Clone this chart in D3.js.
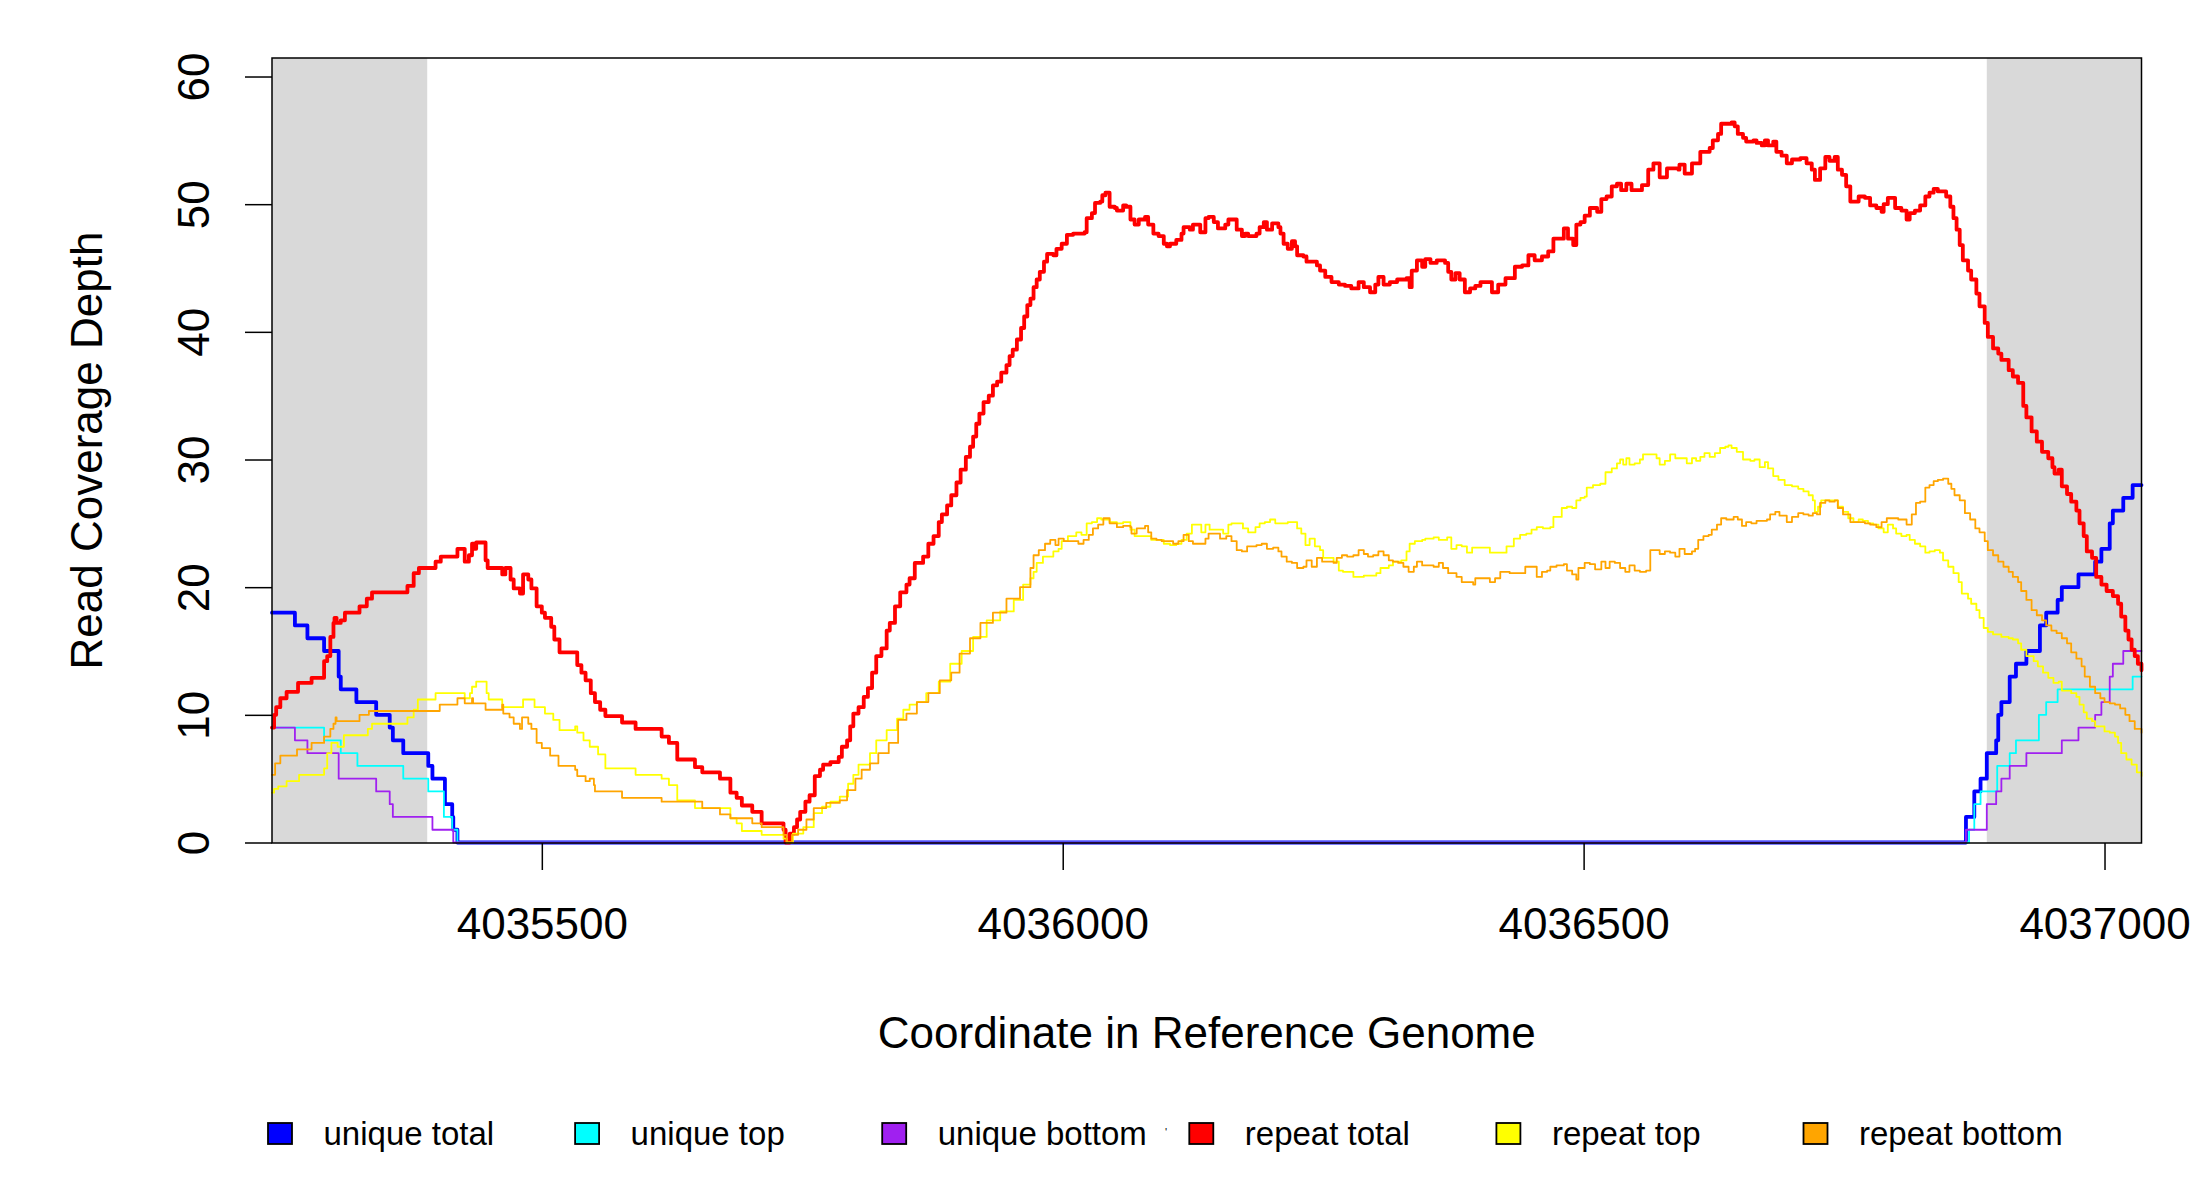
<!DOCTYPE html>
<html>
<head>
<meta charset="utf-8">
<script src="https://cdn.jsdelivr.net/npm/d3@7"></script>
<style>
  body { margin: 0; background: #fff; }
  svg { display: block; }
  text { font-family: "Liberation Sans", Arial, Helvetica, sans-serif; fill: #000; }
</style>
</head>
<body>
<svg id="chart" width="2200" height="1200"></svg>
<script>
// coverage depth per position, [coordinate, depth], drawn as steps
const uniqueTotal = [
  [4035241, 18], [4035263, 17], [4035275, 16], [4035291, 15], [4035305, 13], [4035307, 12],
  [4035322, 11], [4035341, 10], [4035354, 9], [4035357, 8], [4035367, 7], [4035391, 6],
  [4035395, 5], [4035407, 3], [4035414, 2], [4035415, 1], [4035419, 0], [4036867, 2],
  [4036875, 4], [4036881, 5], [4036887, 7], [4036896, 8], [4036898, 10], [4036901, 11],
  [4036909, 13], [4036915, 14], [4036925, 15], [4036938, 17], [4036944, 18], [4036955, 19],
  [4036959, 20], [4036975, 21], [4036991, 22], [4036997, 23], [4037005, 25], [4037008, 26],
  [4037018, 27], [4037027, 28], [4037035.5, 28]
];
const uniqueTop = [
  [4035241, 9], [4035291, 8], [4035307, 7], [4035323, 6], [4035367, 5], [4035391, 4],
  [4035406, 2], [4035414, 1], [4035419, 0], [4036870, 1], [4036875, 3], [4036881, 4],
  [4036897, 6], [4036909, 7], [4036915, 8], [4036937, 10], [4036944, 11], [4036955, 12],
  [4037027, 13], [4037035.5, 13]
];
const uniqueBottom = [
  [4035241, 9], [4035263, 8], [4035275, 7], [4035305, 5], [4035341, 4], [4035354, 3],
  [4035357, 2], [4035395, 1], [4035415, 0], [4036867, 1], [4036887, 3], [4036896, 4],
  [4036901, 5], [4036909, 6], [4036925, 7], [4036959, 8], [4036975, 9], [4036991, 10],
  [4036997, 11], [4037005, 13], [4037008, 14], [4037018, 15], [4037035.5, 15]
];
const repeatTotal = [
  [4035241, 9.0], [4035243, 10.0], [4035245, 10.6], [4035249, 11.3], [4035255, 11.8], [4035266, 12.5],
  [4035279, 12.9], [4035291, 14.2], [4035294, 14.6], [4035297, 16.1], [4035300, 17.2], [4035301, 17.6],
  [4035303, 17.2], [4035307, 17.4], [4035311, 18.0], [4035325, 18.5], [4035332, 19.1], [4035337, 19.6],
  [4035371, 20.1], [4035377, 21.1], [4035382, 21.5], [4035398, 22.0], [4035403, 22.4], [4035419, 23.0],
  [4035426, 22.0], [4035430, 22.5], [4035433, 23.4], [4035435, 23.0], [4035437, 23.5], [4035446, 22.1],
  [4035448, 21.5], [4035462, 21.0], [4035465, 21.5], [4035470, 20.6], [4035473, 19.9], [4035479, 19.5],
  [4035482, 21.0], [4035487, 20.6], [4035490, 19.9], [4035495, 18.5], [4035500, 18.0], [4035503, 17.6],
  [4035509, 16.9], [4035512, 15.9], [4035517, 14.9], [4035534, 13.9], [4035538, 13.3], [4035542, 12.7],
  [4035547, 11.7], [4035551, 11.0], [4035556, 10.4], [4035561, 9.9], [4035577, 9.4], [4035590, 8.9],
  [4035615, 8.3], [4035622, 7.8], [4035630, 6.5], [4035647, 5.9], [4035654, 5.5], [4035671, 5.0],
  [4035681, 3.9], [4035687, 3.5], [4035692, 2.9], [4035702, 2.4], [4035711, 1.5], [4035732, 1.0],
  [4035734, 0], [4035738, 0.7], [4035742, 1.2], [4035745, 1.8], [4035748, 2.4], [4035753, 3.2],
  [4035757, 3.7], [4035762, 5.2], [4035767, 5.7], [4035770, 6.1], [4035777, 6.3], [4035785, 6.7],
  [4035788, 7.5], [4035793, 8.0], [4035796, 9.1], [4035799, 10.1], [4035804, 10.6], [4035809, 11.4],
  [4035813, 12.1], [4035817, 13.3], [4035821, 14.6], [4035826, 15.2], [4035831, 16.6], [4035834, 17.2],
  [4035839, 18.5], [4035844, 19.6], [4035850, 20.2], [4035853, 20.7], [4035858, 21.9], [4035866, 22.4],
  [4035871, 23.4], [4035876, 24.0], [4035881, 25.1], [4035884, 25.7], [4035889, 26.4], [4035893, 27.2],
  [4035898, 28.2], [4035902, 29.2], [4035907, 30.2], [4035911, 31.0], [4035914, 31.8], [4035917, 32.8],
  [4035920, 33.6], [4035924, 34.5], [4035929, 35.0], [4035933, 35.8], [4035937, 36.1], [4035941, 36.8],
  [4035946, 37.4], [4035949, 38.1], [4035952, 38.6], [4035956, 39.4], [4035960, 40.3], [4035963, 41.2],
  [4035966, 42.1], [4035969, 42.6], [4035972, 43.5], [4035975, 44.1], [4035978, 44.7], [4035982, 45.5],
  [4035985, 46.1], [4035991, 46.0], [4035994, 46.5], [4035999, 46.9], [4036004, 47.6], [4036010, 47.7],
  [4036021, 47.8], [4036023, 48.9], [4036028, 49.3], [4036031, 50.1], [4036036, 50.2], [4036038, 50.7],
  [4036041, 50.9], [4036045, 49.8], [4036050, 49.7], [4036052, 49.5], [4036058, 49.9], [4036061, 49.8],
  [4036065, 48.8], [4036069, 48.4], [4036073, 48.8], [4036079, 49.0], [4036082, 48.4], [4036087, 47.7],
  [4036092, 47.5], [4036097, 46.9], [4036100, 46.7], [4036103, 46.9], [4036109, 47.2], [4036114, 47.7],
  [4036116, 48.2], [4036122, 48.0], [4036125, 48.4], [4036132, 47.8], [4036137, 48.9], [4036140, 49.0],
  [4036145, 48.6], [4036149, 48.1], [4036156, 48.4], [4036159, 48.8], [4036167, 48.0], [4036172, 47.5],
  [4036175, 47.7], [4036178, 47.5], [4036186, 47.7], [4036189, 48.2], [4036193, 48.6], [4036196, 48.0],
  [4036201, 48.5], [4036207, 48.2], [4036209, 47.7], [4036212, 46.9], [4036216, 46.5], [4036220, 47.1],
  [4036223, 46.7], [4036225, 46.0], [4036231, 45.9], [4036234, 45.5], [4036244, 45.2], [4036247, 44.8],
  [4036252, 44.3], [4036258, 43.9], [4036265, 43.7], [4036271, 43.6], [4036277, 43.4], [4036284, 43.9],
  [4036289, 43.5], [4036295, 43.1], [4036300, 43.7], [4036303, 44.3], [4036308, 43.7], [4036314, 43.9],
  [4036321, 44.1], [4036330, 44.2], [4036333, 43.5], [4036335, 44.8], [4036340, 45.6], [4036345, 45.1],
  [4036348, 45.7], [4036353, 45.4], [4036359, 45.6], [4036367, 45.4], [4036370, 44.7], [4036373, 44.1],
  [4036377, 44.6], [4036381, 44.1], [4036386, 43.1], [4036391, 43.4], [4036396, 43.6], [4036401, 43.9],
  [4036412, 43.1], [4036418, 43.7], [4036425, 44.2], [4036434, 45.1], [4036441, 45.2], [4036447, 46.0],
  [4036453, 45.6], [4036460, 45.9], [4036466, 46.3], [4036471, 47.3], [4036481, 48.1], [4036485, 47.3],
  [4036490, 46.8], [4036493, 48.4], [4036497, 48.6], [4036501, 49.1], [4036506, 49.7], [4036513, 49.4],
  [4036517, 50.4], [4036522, 50.6], [4036527, 51.4], [4036532, 51.6], [4036536, 51.1], [4036541, 51.6],
  [4036546, 51.1], [4036556, 51.5], [4036562, 52.7], [4036567, 53.2], [4036573, 52.1], [4036580, 52.8],
  [4036591, 52.7], [4036592, 53.1], [4036597, 52.4], [4036604, 53.2], [4036612, 54.1], [4036621, 54.4],
  [4036624, 55.0], [4036629, 55.5], [4036632, 56.3], [4036642, 56.4], [4036645, 56.1], [4036648, 55.5],
  [4036653, 55.2], [4036656, 54.9], [4036663, 55.0], [4036666, 54.8], [4036671, 54.6], [4036674, 55.0],
  [4036677, 54.6], [4036682, 54.9], [4036685, 54.1], [4036690, 53.8], [4036695, 53.2], [4036700, 53.5],
  [4036708, 53.6], [4036714, 53.2], [4036719, 52.7], [4036722, 51.9], [4036727, 52.8], [4036732, 53.7],
  [4036736, 53.4], [4036741, 53.7], [4036744, 52.7], [4036748, 52.3], [4036752, 51.4], [4036756, 50.2],
  [4036764, 50.6], [4036770, 50.5], [4036775, 49.9], [4036781, 49.7], [4036786, 49.4], [4036788, 50.0],
  [4036792, 50.5], [4036799, 49.7], [4036805, 49.5], [4036810, 48.8], [4036813, 49.3], [4036818, 49.5],
  [4036823, 49.9], [4036828, 50.6], [4036832, 50.9], [4036836, 51.2], [4036840, 51.0], [4036848, 50.6],
  [4036852, 49.8], [4036855, 48.9], [4036858, 48.0], [4036861, 46.8], [4036864, 45.6], [4036869, 44.8],
  [4036872, 44.1], [4036877, 43.0], [4036880, 42.0], [4036885, 40.7], [4036888, 39.6], [4036893, 38.7],
  [4036898, 38.3], [4036901, 37.8], [4036908, 37.0], [4036912, 36.5], [4036917, 36.0], [4036922, 34.2],
  [4036925, 33.3], [4036930, 32.2], [4036935, 31.4], [4036940, 30.6], [4036946, 30.1], [4036950, 29.4],
  [4036952, 28.9], [4036956, 29.2], [4036959, 27.9], [4036964, 27.3], [4036968, 26.7], [4036973, 26.0],
  [4036976, 25.0], [4036980, 24.0], [4036983, 22.8], [4036988, 22.3], [4036992, 20.8], [4036997, 20.2],
  [4037002, 19.7], [4037008, 19.3], [4037013, 18.7], [4037016, 17.7], [4037020, 16.6], [4037023, 15.9],
  [4037026, 15.1], [4037029, 14.6], [4037032, 14.0], [4037035.5, 13.5]
];
const repeatTop = [
  [4035241, 3.9], [4035243, 4.2], [4035247, 4.4], [4035255, 4.8], [4035267, 5.3], [4035291, 5.8],
  [4035294, 7.0], [4035298, 7.8], [4035304, 7.5], [4035310, 8.4], [4035333, 8.9], [4035337, 9.3],
  [4035371, 9.8], [4035377, 10.4], [4035381, 11.2], [4035398, 11.7], [4035426, 11.3], [4035431, 11.7],
  [4035433, 12.2], [4035437, 12.6], [4035447, 11.7], [4035449, 11.2], [4035462, 10.6], [4035482, 11.2],
  [4035493, 10.6], [4035503, 10.1], [4035511, 9.6], [4035517, 8.8], [4035532, 9.1], [4035534, 8.6],
  [4035540, 8.0], [4035546, 7.5], [4035554, 6.9], [4035561, 5.8], [4035590, 5.3], [4035615, 5.0],
  [4035622, 4.5], [4035630, 3.3], [4035647, 2.7], [4035681, 1.9], [4035687, 1.5], [4035692, 0.9],
  [4035711, 0.6], [4035732, 0.3], [4035735, 0], [4035741, 0.7], [4035751, 1.2], [4035761, 2.3],
  [4035769, 2.8], [4035777, 3.2], [4035786, 3.6], [4035794, 4.6], [4035799, 5.3], [4035804, 6.1],
  [4035815, 7.0], [4035821, 8.0], [4035831, 8.8], [4035841, 9.7], [4035847, 10.4], [4035853, 10.8],
  [4035860, 11.0], [4035869, 11.7], [4035881, 12.6], [4035892, 14.0], [4035903, 15.0], [4035914, 16.1],
  [4035927, 17.4], [4035940, 18.1], [4035953, 19.0], [4035962, 20.2], [4035969, 20.7], [4035972, 21.2],
  [4035975, 21.9], [4035981, 22.4], [4035991, 22.8], [4035996, 23.0], [4035999, 23.6], [4036005, 24.0],
  [4036013, 24.3], [4036018, 24.1], [4036023, 25.0], [4036028, 25.1], [4036033, 25.4], [4036037, 25.3],
  [4036045, 25.1], [4036052, 25.0], [4036058, 25.1], [4036065, 24.5], [4036069, 24.0], [4036085, 23.7],
  [4036097, 23.4], [4036103, 23.3], [4036109, 23.4], [4036114, 23.7], [4036119, 24.2], [4036124, 24.9],
  [4036133, 24.3], [4036137, 24.9], [4036141, 24.5], [4036154, 24.2], [4036159, 24.9], [4036162, 25.0],
  [4036173, 24.6], [4036178, 24.3], [4036185, 24.7], [4036189, 25.0], [4036194, 25.1], [4036199, 25.3],
  [4036204, 25.0], [4036216, 25.1], [4036225, 24.6], [4036229, 24.2], [4036233, 23.3], [4036237, 23.8],
  [4036242, 23.2], [4036247, 22.9], [4036250, 22.3], [4036260, 22.0], [4036265, 21.3], [4036269, 21.2],
  [4036279, 20.8], [4036289, 20.9], [4036301, 21.1], [4036305, 21.5], [4036313, 21.7], [4036317, 22.0],
  [4036325, 22.1], [4036330, 22.8], [4036333, 23.4], [4036338, 23.6], [4036345, 23.7], [4036348, 23.8],
  [4036356, 23.9], [4036361, 23.7], [4036369, 23.9], [4036373, 23.0], [4036378, 23.3], [4036383, 23.2],
  [4036388, 22.7], [4036393, 23.1], [4036410, 22.7], [4036426, 23.2], [4036433, 23.8], [4036439, 24.1],
  [4036445, 24.2], [4036450, 24.5], [4036455, 24.7], [4036461, 24.6], [4036468, 24.7], [4036471, 25.5],
  [4036479, 26.2], [4036484, 26.3], [4036489, 26.2], [4036493, 26.8], [4036497, 27.0], [4036501, 27.1],
  [4036503, 27.8], [4036509, 28.0], [4036516, 28.1], [4036521, 29.0], [4036527, 29.3], [4036532, 29.7],
  [4036535, 30.0], [4036538, 29.6], [4036541, 30.1], [4036544, 29.6], [4036549, 29.7], [4036554, 30.0],
  [4036557, 30.4], [4036570, 30.1], [4036573, 29.6], [4036578, 29.9], [4036583, 30.4], [4036588, 30.1],
  [4036599, 29.7], [4036604, 30.1], [4036608, 29.9], [4036612, 30.2], [4036616, 30.5], [4036621, 30.2],
  [4036626, 30.5], [4036631, 30.9], [4036636, 31.0], [4036639, 31.1], [4036642, 30.9], [4036647, 30.6],
  [4036653, 30.0], [4036660, 29.9], [4036664, 30.0], [4036669, 29.4], [4036674, 29.8], [4036677, 29.3],
  [4036682, 28.7], [4036687, 28.4], [4036693, 28.0], [4036700, 27.9], [4036706, 27.7], [4036711, 27.5],
  [4036716, 27.2], [4036720, 26.8], [4036722, 25.9], [4036725, 26.3], [4036728, 26.8], [4036744, 26.3],
  [4036749, 25.9], [4036754, 25.4], [4036759, 25.1], [4036764, 25.3], [4036768, 25.2], [4036773, 25.0],
  [4036778, 24.9], [4036783, 24.6], [4036788, 24.3], [4036792, 24.9], [4036797, 24.6], [4036800, 24.2],
  [4036805, 24.0], [4036810, 24.1], [4036813, 23.7], [4036818, 23.4], [4036823, 23.2], [4036828, 22.7],
  [4036832, 22.8], [4036837, 22.9], [4036842, 22.7], [4036845, 22.1], [4036850, 21.6], [4036855, 21.1],
  [4036860, 20.4], [4036863, 19.5], [4036869, 19.1], [4036872, 18.7], [4036877, 18.2], [4036880, 17.6],
  [4036884, 16.8], [4036888, 16.5], [4036893, 16.3], [4036901, 16.1], [4036908, 16.0], [4036912, 15.9],
  [4036917, 15.6], [4036920, 15.1], [4036925, 14.6], [4036932, 14.2], [4036936, 13.8], [4036941, 13.3],
  [4036946, 12.9], [4036951, 12.5], [4036956, 12.6], [4036959, 11.9], [4036968, 11.7], [4036973, 11.4],
  [4036976, 10.8], [4036980, 10.2], [4036983, 9.7], [4036988, 9.5], [4036991, 9.1], [4037000, 8.7],
  [4037005, 8.6], [4037010, 8.3], [4037013, 7.8], [4037016, 7.0], [4037021, 6.5], [4037026, 6.1],
  [4037031, 5.5], [4037035.5, 5.2]
];
const repeatBottom = [
  [4035241, 5.3], [4035244, 6.2], [4035249, 6.8], [4035265, 7.3], [4035279, 7.8], [4035291, 8.3],
  [4035297, 8.9], [4035300, 9.3], [4035302, 9.8], [4035303, 9.5], [4035325, 10.0], [4035334, 10.3],
  [4035402, 10.8], [4035419, 11.3], [4035426, 10.9], [4035433, 11.3], [4035434, 10.9], [4035446, 10.4],
  [4035462, 10.8], [4035463, 10.1], [4035469, 9.8], [4035473, 9.3], [4035479, 8.9], [4035481, 9.8],
  [4035487, 9.3], [4035490, 8.9], [4035495, 7.8], [4035500, 7.4], [4035508, 6.8], [4035516, 6.0],
  [4035532, 5.7], [4035534, 5.2], [4035542, 4.8], [4035546, 5.0], [4035550, 4.5], [4035551, 4.0],
  [4035577, 3.5], [4035615, 3.2], [4035654, 2.7], [4035671, 2.2], [4035681, 1.9], [4035702, 1.5],
  [4035711, 1.2], [4035732, 0.6], [4035735, 0], [4035740, 0.6], [4035746, 1.0], [4035754, 1.8],
  [4035761, 2.7], [4035773, 3.1], [4035786, 3.3], [4035793, 4.1], [4035801, 5.0], [4035807, 5.7],
  [4035815, 6.2], [4035823, 7.0], [4035833, 7.8], [4035842, 9.6], [4035850, 10.1], [4035860, 11.0],
  [4035871, 11.7], [4035882, 12.7], [4035893, 13.3], [4035901, 14.8], [4035911, 16.0], [4035921, 17.2],
  [4035933, 18.0], [4035946, 19.1], [4035959, 20.0], [4035969, 21.5], [4035972, 22.5], [4035977, 22.9],
  [4035983, 23.4], [4035988, 23.7], [4035993, 23.3], [4035996, 23.8], [4036001, 23.6], [4036015, 23.4],
  [4036020, 23.7], [4036025, 24.1], [4036029, 24.6], [4036034, 24.9], [4036039, 25.4], [4036045, 25.0],
  [4036052, 24.7], [4036058, 24.8], [4036065, 24.7], [4036066, 24.2], [4036071, 24.6], [4036079, 24.8],
  [4036082, 24.3], [4036085, 23.8], [4036090, 23.7], [4036095, 23.6], [4036106, 23.4], [4036111, 23.6],
  [4036116, 24.1], [4036121, 23.6], [4036125, 23.4], [4036137, 23.8], [4036140, 24.2], [4036151, 23.8],
  [4036157, 24.0], [4036162, 23.6], [4036167, 22.9], [4036172, 22.8], [4036177, 23.2], [4036186, 23.3],
  [4036191, 23.4], [4036196, 23.0], [4036202, 23.1], [4036207, 22.8], [4036210, 22.4], [4036215, 22.0],
  [4036220, 21.9], [4036225, 21.5], [4036231, 21.6], [4036234, 22.1], [4036239, 21.6], [4036244, 22.3],
  [4036249, 22.0], [4036260, 21.9], [4036263, 22.3], [4036268, 22.5], [4036273, 22.4], [4036279, 22.5],
  [4036284, 22.9], [4036289, 22.6], [4036293, 22.4], [4036298, 22.5], [4036303, 22.8], [4036308, 22.5],
  [4036313, 22.1], [4036317, 22.0], [4036322, 21.9], [4036327, 21.6], [4036332, 21.2], [4036337, 21.6],
  [4036340, 22.0], [4036345, 21.7], [4036356, 21.6], [4036361, 21.9], [4036365, 21.5], [4036370, 21.1],
  [4036378, 20.8], [4036383, 20.4], [4036394, 20.2], [4036396, 20.7], [4036410, 20.4], [4036415, 20.7],
  [4036420, 21.2], [4036429, 21.1], [4036444, 21.6], [4036455, 20.8], [4036460, 21.2], [4036465, 21.3],
  [4036468, 21.6], [4036474, 21.7], [4036481, 21.8], [4036484, 21.3], [4036489, 21.0], [4036493, 20.6],
  [4036495, 21.5], [4036501, 21.9], [4036506, 21.8], [4036511, 21.4], [4036517, 22.0], [4036521, 21.5],
  [4036525, 22.0], [4036530, 21.9], [4036535, 21.5], [4036540, 21.2], [4036544, 21.7], [4036549, 21.3],
  [4036554, 21.2], [4036560, 21.3], [4036564, 22.9], [4036573, 22.6], [4036578, 22.8], [4036583, 22.7],
  [4036588, 22.4], [4036592, 23.0], [4036597, 22.6], [4036604, 22.8], [4036607, 23.0], [4036610, 23.7],
  [4036615, 24.0], [4036620, 24.1], [4036623, 24.5], [4036628, 24.9], [4036632, 25.4], [4036637, 25.3],
  [4036644, 25.5], [4036648, 25.3], [4036652, 24.8], [4036656, 25.1], [4036661, 25.0], [4036666, 25.2],
  [4036671, 25.2], [4036676, 25.3], [4036679, 25.7], [4036684, 25.9], [4036688, 25.6], [4036695, 25.1],
  [4036700, 25.5], [4036706, 25.8], [4036711, 25.7], [4036716, 25.6], [4036720, 25.8], [4036724, 25.7],
  [4036727, 26.6], [4036732, 26.8], [4036736, 26.7], [4036741, 26.8], [4036744, 26.2], [4036749, 25.7],
  [4036756, 25.1], [4036770, 25.0], [4036775, 24.9], [4036781, 24.7], [4036786, 25.1], [4036791, 25.4],
  [4036802, 25.3], [4036810, 24.9], [4036815, 25.7], [4036819, 26.6], [4036823, 26.7], [4036828, 27.8],
  [4036832, 28.0], [4036836, 28.3], [4036840, 28.4], [4036845, 28.5], [4036850, 28.1], [4036853, 27.7],
  [4036856, 27.2], [4036861, 26.8], [4036866, 25.8], [4036871, 25.3], [4036876, 24.6], [4036880, 24.3],
  [4036885, 23.6], [4036888, 22.9], [4036893, 22.5], [4036898, 22.0], [4036903, 21.6], [4036908, 21.2],
  [4036912, 20.8], [4036917, 20.4], [4036920, 19.7], [4036925, 19.0], [4036930, 18.2], [4036935, 17.8],
  [4036940, 17.4], [4036944, 17.0], [4036949, 16.6], [4036954, 16.4], [4036959, 16.0], [4036964, 15.6],
  [4036968, 14.9], [4036973, 14.4], [4036978, 13.8], [4036981, 13.0], [4036986, 12.2], [4036991, 11.7],
  [4036996, 11.3], [4037000, 11.0], [4037005, 10.9], [4037010, 10.8], [4037015, 10.5], [4037020, 10.0],
  [4037024, 9.5], [4037029, 8.9], [4037035.5, 8.6]
];

// flanking regions shaded grey
const flankRegions = [[4035241, 4035390], [4036887, 4037035.5]];

const xDomain = [4035241, 4037035.5];
const yDomain = [0, 61.45];
const xTicks = [4035500, 4036000, 4036500, 4037000];
const yTicks = [0, 10, 20, 30, 40, 50, 60];

const seriesNames = ["unique total", "unique top", "unique bottom", "repeat total", "repeat top", "repeat bottom"];
const seriesData = [uniqueTotal, uniqueTop, uniqueBottom, repeatTotal, repeatTop, repeatBottom];

// styling
const seriesColors = ["#0000FF", "#00FFFF", "#A020F0", "#FF0000", "#FFFF00", "#FFA500"];
const seriesWidths = [3.8, 1.8, 1.8, 3.8, 1.8, 1.8];

const margin = {top: 58, right: 58.5, bottom: 357, left: 272};
const svg = d3.select("#chart");
const width = +svg.attr("width");
const height = +svg.attr("height");
const plotLeft = margin.left, plotRight = width - margin.right;
const plotTop = margin.top, plotBottom = height - margin.bottom;

const x = d3.scaleLinear().domain(xDomain).range([plotLeft, plotRight]);
const y = d3.scaleLinear().domain(yDomain).range([plotBottom - 0.5, plotTop]);

// grey flanks
svg.append("g").selectAll("rect")
  .data(flankRegions)
  .enter()
  .append("rect")
  .attr("x", d => x(d[0]))
  .attr("y", plotTop)
  .attr("width", d => x(d[1]) - x(d[0]))
  .attr("height", plotBottom - plotTop)
  .attr("fill", "#D9D9D9");

// coverage step lines
let line = d3.line()
  .x(d => x(d[0]))
  .y(d => y(d[1]))
  .curve(d3.curveStepAfter);

svg.append("g").selectAll("path")
  .data(seriesData)
  .enter()
  .append("path")
  .attr("d", line)
  .attr("fill", "none")
  .attr("stroke", (d, i) => seriesColors[i])
  .attr("stroke-width", (d, i) => seriesWidths[i])
  .attr("stroke-linejoin", "round")
  .attr("stroke-linecap", "round");

// plot box
svg.append("rect")
  .attr("x", plotLeft)
  .attr("y", plotTop)
  .attr("width", plotRight - plotLeft)
  .attr("height", plotBottom - plotTop)
  .attr("fill", "none")
  .attr("stroke", "#000")
  .attr("stroke-width", 1.5);

// y axis, labels turned like R's las = 0
let yAxis = svg.append("g")
  .attr("transform", "translate(" + plotLeft + ",0)")
  .call(d3.axisLeft(y).tickValues(yTicks).tickSize(27).tickFormat(d3.format("d")));
yAxis.select(".domain").remove();
yAxis.selectAll("line").attr("stroke", "#000").attr("stroke-width", 1.5);
yAxis.selectAll("text")
  .attr("x", 0)
  .attr("y", -63)
  .attr("dy", null)
  .attr("transform", "rotate(-90)")
  .attr("text-anchor", "middle")
  .style("font-size", "44px")
  .style("font-family", "'Liberation Sans', Arial, sans-serif")
  .attr("fill", "#000");

// x axis
let xAxis = svg.append("g")
  .attr("transform", "translate(0," + plotBottom + ")")
  .call(d3.axisBottom(x).tickValues(xTicks).tickSize(27).tickFormat(d3.format("d")));
xAxis.select(".domain").remove();
xAxis.selectAll("line").attr("stroke", "#000").attr("stroke-width", 1.5);
xAxis.selectAll("text")
  .attr("y", 96)
  .attr("dy", null)
  .style("font-size", "44px")
  .style("font-family", "'Liberation Sans', Arial, sans-serif")
  .attr("fill", "#000");

// axis titles
svg.append("text")
  .attr("x", (plotLeft + plotRight) / 2)
  .attr("y", 1048)
  .attr("text-anchor", "middle")
  .style("font-size", "44px")
  .text("Coordinate in Reference Genome");

svg.append("text")
  .attr("transform", "translate(102," + (plotTop + plotBottom) / 2 + ") rotate(-90)")
  .attr("text-anchor", "middle")
  .style("font-size", "44px")
  .text("Read Coverage Depth");

// legend in one row under the plot
const legendX0 = 268, legendStep = 307.1, legendY = 1123;
let legend = svg.append("g");
let items = legend.selectAll("g")
  .data(seriesNames)
  .enter()
  .append("g")
  .attr("transform", (d, i) => "translate(" + (legendX0 + i * legendStep) + "," + legendY + ")");
items.append("rect")
  .attr("width", 24)
  .attr("height", 21)
  .attr("fill", (d, i) => seriesColors[i])
  .attr("stroke", "#000")
  .attr("stroke-width", 1.8);
items.append("text")
  .attr("x", 55.5)
  .attr("y", 21.5)
  .style("font-size", "33px")
  .text(d => d);

// stray mark left in the legend row
svg.append("text")
  .attr("x", 1165)
  .attr("y", 1136)
  .style("font-size", "11px")
  .text("'");
</script>
</body>
</html>
